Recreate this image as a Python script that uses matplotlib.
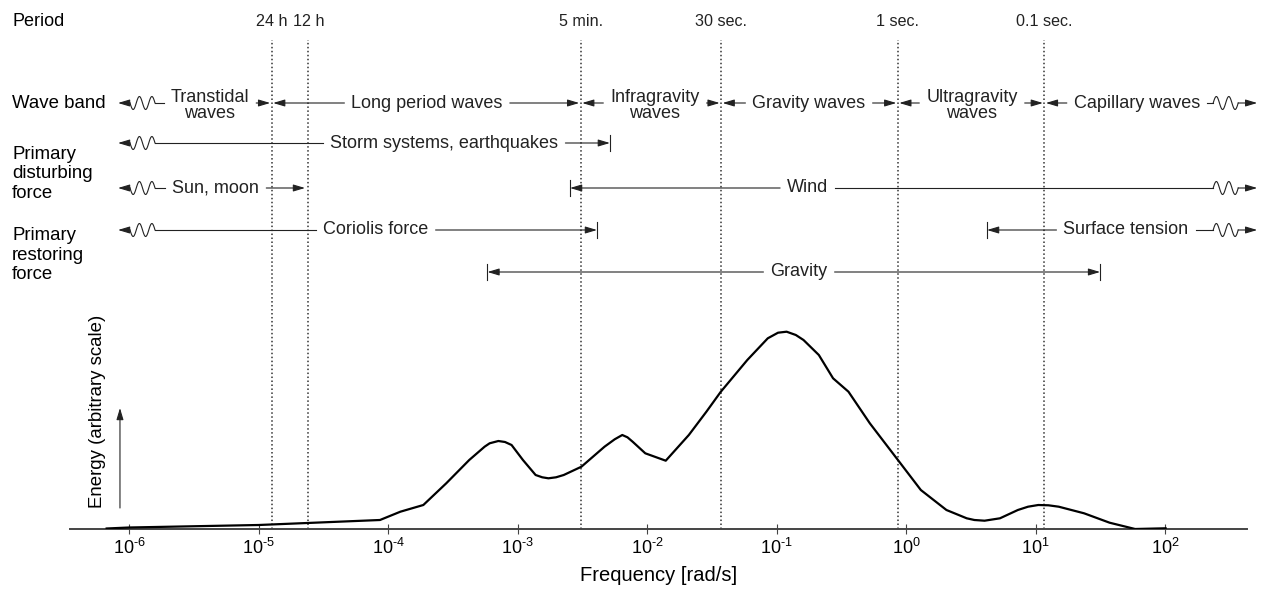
import numpy as np
import matplotlib
matplotlib.use('Agg')
import matplotlib.pyplot as plt

plt.rcParams['font.family'] = ['Liberation Sans', 'DejaVu Sans']
plt.rcParams['mathtext.fontset'] = 'custom'
plt.rcParams['mathtext.rm'] = 'Liberation Sans'

# energy spectrum (frequency in rad/s, energy in arbitrary units)
freq = [6.7e-7, 1.0e-6, 1.0e-5, 8.65e-5, 1.243e-4, 1.87e-4, 2.81e-4, 4.23e-4,
        5.56e-4, 6.08e-4, 7.10e-4, 7.99e-4, 8.98e-4, 1.099e-3, 1.377e-3, 1.55e-3,
        1.729e-3, 1.98e-3, 2.27e-3, 3.11e-3, 4.69e-3, 5.62e-3, 6.43e-3, 7.05e-3,
        7.73e-3, 9.68e-3, 1.393e-2, 2.10e-2, 2.87e-2, 3.71e-2, 5.94e-2, 8.55e-2,
        0.1026, 0.1195, 0.1408, 0.1614, 0.212, 0.273, 0.359, 0.525, 0.865, 1.30,
        2.05, 2.94, 3.37, 4.04, 5.31, 7.30, 8.75, 10.5, 12.58, 15.1, 23.7, 37.3,
        58.7, 101]
energy = [0.5, 1.5, 4, 9, 17.3, 24, 45.7, 69,
          82.3, 85.7, 88, 87, 84, 69, 54, 51.7,
          50.7, 51.7, 54, 62.3, 82.3, 89.7, 94, 91.7,
          87.3, 75.7, 68.3, 94, 117.3, 137.3, 169, 190.7,
          196.3, 197.3, 194, 189, 174, 150.7, 137.3, 105.7, 69, 39,
          19, 10.7, 9, 8.3, 10.7, 19, 22.3, 24, 23.7, 22.3, 15.7, 6.3,
          0, 0.7]

# period markers (dotted lines)
period_freq = [1.26e-5, 2.42e-5, 3.07e-3, 3.73e-2, 0.863, 11.7]
period_labels = ['24 h', '12 h', '5 min.', '30 sec.', '1 sec.', '0.1 sec.']

# x ticks
tick_exp = [-6, -5, -4, -3, -2, -1, 0, 1, 2]

# wave bands
band_names = ['Transtidal\nwaves', 'Long period waves', 'Infragravity\nwaves',
              'Gravity waves', 'Ultragravity\nwaves', 'Capillary waves']
band_edges = [1.26e-5, 3.07e-3, 3.73e-2, 0.863, 11.7]
band_text_x = [4.2e-6, 2.0e-4, 1.15e-2, 0.178, 3.23, 60.7]

# primary disturbing forces (None = open ended)
disturb_names = ['Storm systems, earthquakes', 'Sun, moon', 'Wind']
disturb_lo = [None, None, 2.54e-3]
disturb_hi = [5.16e-3, 2.28e-5, None]
disturb_text_x = [2.72e-4, 4.67e-6, 0.174]
disturb_row = [0, 1, 1]

# primary restoring forces
restore_names = ['Coriolis force', 'Surface tension', 'Gravity']
restore_lo = [None, 4.22, 5.85e-4]
restore_hi = [4.10e-3, None, 31.5]
restore_text_x = [8.05e-5, 50.0, 0.149]
restore_row = [0, 0, 1]

ink = '#222222'
xmin, xmax = 10 ** -6.457, 10 ** 2.633
open_left, open_right = 8.2e-7, 515.0

fig = plt.figure(figsize=(12.65, 5.9), dpi=100)
ax = fig.add_axes([70 / 1265, 61 / 590, 1177 / 1265, 529 / 590])
ax.set_xscale('log')
ax.set_xlim(xmin, xmax)
ax.set_ylim(0, 529)
for s in ['top', 'left', 'right']:
    ax.spines[s].set_visible(False)
ax.spines['bottom'].set_color('#444444')
ax.spines['bottom'].set_linewidth(1.4)
ax.set_yticks([])
ax.set_xticks([10.0 ** k for k in tick_exp])
ax.set_xticklabels([r'$\mathregular{10^{\text{-}%d}}$' % -k if k < 0 else
                    r'$\mathregular{10^{%d}}$' % k for k in tick_exp])
ax.minorticks_off()
ax.tick_params(axis='x', direction='inout', length=7, width=0.8, color='#444444',
               labelsize=13, pad=3)
ax.set_xlabel('Frequency [rad/s]', fontsize=14.5, labelpad=6)

px_per_dec = 1177 / np.log10(xmax / xmin)


def shift(f, px):
    return f * 10 ** (px / px_per_dec)


# spectrum
ax.plot(freq, energy, color='black', lw=1.6, solid_joinstyle='round', zorder=3)

# period lines
ax.vlines(period_freq, 0, 489, colors='#333333', linestyles=(0, (1, 1.6)), lw=1.1)
for f, lab in zip(period_freq, period_labels):
    ax.text(f, 507, lab, ha='center', va='center', fontsize=11.6, color=ink)

# row labels
fig.text(12 / 1265, 1 - 21 / 590, 'Period', fontsize=13, va='center', ha='left')
fig.text(12 / 1265, 1 - 103 / 590, 'Wave band', fontsize=13.4, va='center', ha='left')
fig.text(12 / 1265, 1 - 174 / 590, 'Primary\ndisturbing\nforce', fontsize=13.4,
         va='center', ha='left', linespacing=1.17)
fig.text(12 / 1265, 1 - 255 / 590, 'Primary\nrestoring\nforce', fontsize=13.4,
         va='center', ha='left', linespacing=1.17)

# energy axis
ax.text(5.74e-7, 117.5, 'Energy (arbitrary scale)', rotation=90, ha='center',
        va='center', fontsize=13.4, clip_on=False)
ax.annotate('', xy=(8.49e-7, 121), xytext=(8.49e-7, 21), annotation_clip=False,
            arrowprops=dict(arrowstyle='-|>,head_length=0.5,head_width=0.15',
                            mutation_scale=14, lw=0.8, color=ink,
                            shrinkA=0, shrinkB=0))

renderer = fig.canvas.get_renderer()
inv = ax.transData.inverted()


def arrow(x0, x1, y):
    ax.annotate('', xy=(x1, y), xytext=(x0, y), annotation_clip=False,
                arrowprops=dict(arrowstyle='-|>,head_length=0.5,head_width=0.15',
                                mutation_scale=14, lw=0.8, color=ink,
                                shrinkA=0, shrinkB=0))


def line(x0, x1, y):
    ax.plot([x0, x1], [y, y], color=ink, lw=0.8, clip_on=False)


def bar(x, y):
    ax.plot([x, x], [y - 8, y + 8], color=ink, lw=0.8, clip_on=False)


def squiggle(x0, x1, y, sign):
    u = np.linspace(0, 1, 60)
    lx = np.log10(x0) + u * (np.log10(x1) - np.log10(x0))
    ax.plot(10 ** lx, y + sign * 6.5 * np.sin(4 * np.pi * u), color=ink, lw=0.8,
            clip_on=False)


def text_edges(t):
    bb = t.get_window_extent(renderer)
    return inv.transform((bb.x0, 0))[0], inv.transform((bb.x1, 0))[0]


def span(name, tx, lo, hi, y, lo_bar=True, hi_bar=True, gap=7):
    ty = y - 2.5 if '\n' in name else y
    t = ax.text(tx, ty, name, ha='center', va='center', fontsize=13, color=ink,
                linespacing=0.95)
    left, right = text_edges(t)
    left, right = shift(left, -gap), shift(right, gap)
    if lo is None:
        arrow(shift(open_left, 12), open_left, y)
        squiggle(shift(open_left, 12), shift(open_left, 37), y, -1)
        line(shift(open_left, 37), left, y)
    else:
        arrow(left, lo, y)
        if lo_bar:
            bar(lo, y)
    if hi is None:
        line(right, shift(open_right, -44), y)
        squiggle(shift(open_right, -44), shift(open_right, -19), y, 1)
        arrow(shift(open_right, -19), open_right, y)
    else:
        arrow(right, hi, y)
        if hi_bar:
            bar(hi, y)


row_y = {'band': 426, 'dist': [386, 341], 'rest': [299, 257]}

# wave band row
for i, name in enumerate(band_names):
    lo = shift(band_edges[i - 1], 1.5) if i > 0 else None
    hi = shift(band_edges[i], -1.5) if i < len(band_edges) else None
    span(name, band_text_x[i], lo, hi, row_y['band'], lo_bar=False, hi_bar=False)

# disturbing forces
for name, lo, hi, tx, r in zip(disturb_names, disturb_lo, disturb_hi, disturb_text_x, disturb_row):
    span(name, tx, lo, hi, row_y['dist'][r], hi_bar=(name != 'Sun, moon'))

# restoring forces
for name, lo, hi, tx, r in zip(restore_names, restore_lo, restore_hi, restore_text_x, restore_row):
    span(name, tx, lo, hi, row_y['rest'][r])

fig.savefig('out.png', dpi=100)
